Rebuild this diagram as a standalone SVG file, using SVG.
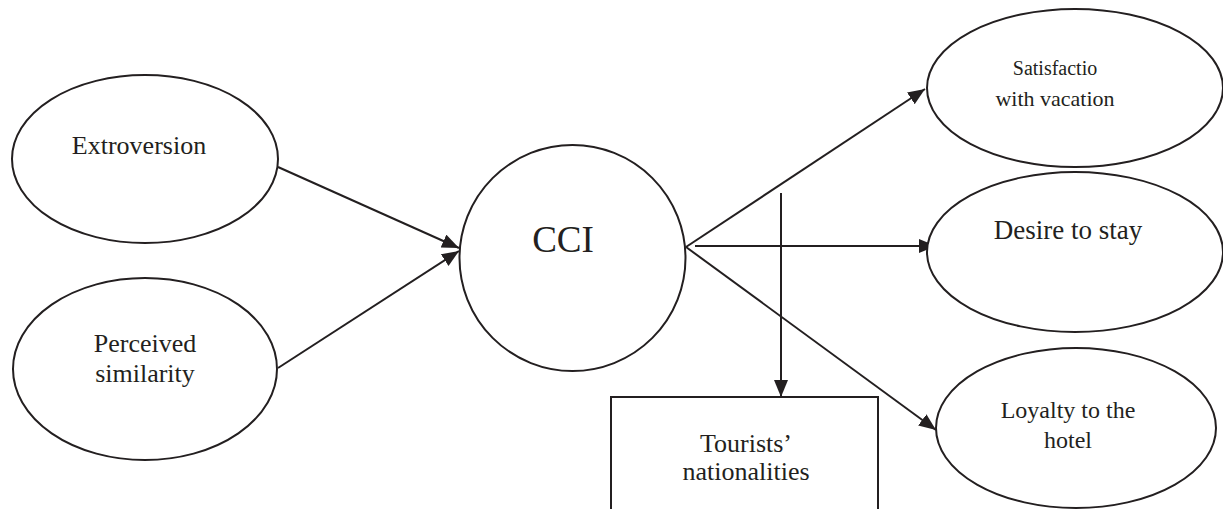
<svg xmlns="http://www.w3.org/2000/svg" width="1223" height="509" viewBox="0 0 1223 509">
<style>
.n{fill:#fff;stroke:#231f20;stroke-width:2}
.t{font-family:'Liberation Serif','Times New Roman','DejaVu Serif',serif;fill:#231f20;text-anchor:middle}
.c{stroke:#231f20;stroke-width:2;fill:none;marker-end:url(#ah)}
</style>
<defs>
<marker id="ah" markerUnits="userSpaceOnUse" markerWidth="18" markerHeight="16" refX="17" refY="7" orient="auto">
<path d="M0,0 L17,7 L0,14 Z" fill="#231f20"/>
</marker>
</defs>
<rect width="1223" height="509" fill="#fff"/>
<g id="connectors">
<line class="c" x1="278" y1="167" x2="459" y2="248"/>
<line class="c" x1="278" y1="368" x2="459" y2="251"/>
<line class="c" x1="686" y1="247" x2="925" y2="89"/>
<line class="c" x1="695" y1="246" x2="936" y2="246"/>
<line class="c" x1="686" y1="247" x2="936" y2="430"/>
<line class="c" x1="781" y1="193" x2="781" y2="397"/>
</g>
<g id="extroversion">
<ellipse class="n" cx="145" cy="159" rx="133" ry="84"/>
<text class="t" x="139" y="154" font-size="26" font-family="Liberation Serif, serif">Extroversion</text>
</g>
<g id="perceived">
<ellipse class="n" cx="145" cy="369" rx="132" ry="91"/>
<text class="t" x="145" y="352" font-size="26" font-family="Liberation Serif, serif">Perceived</text>
<text class="t" x="145" y="382" font-size="26" font-family="Liberation Serif, serif">similarity</text>
</g>
<g id="cci">
<circle class="n" cx="572.5" cy="258" r="113"/>
<text class="t" x="563" y="252" font-size="37" font-family="Liberation Serif, serif">CCI</text>
</g>
<g id="satisfaction">
<ellipse class="n" cx="1075" cy="88" rx="148" ry="79"/>
<text class="t" x="1055" y="75" font-size="20" font-family="Liberation Serif, serif">Satisfactio</text>
<text class="t" x="1055" y="106" font-size="22" font-family="Liberation Serif, serif">with vacation</text>
</g>
<g id="desire">
<ellipse class="n" cx="1075" cy="252" rx="148" ry="80"/>
<text class="t" x="1068" y="239" font-size="27" font-family="Liberation Serif, serif">Desire to stay</text>
</g>
<g id="loyalty">
<ellipse class="n" cx="1076" cy="428" rx="140" ry="80"/>
<text class="t" x="1068" y="418" font-size="24" font-family="Liberation Serif, serif">Loyalty to the</text>
<text class="t" x="1068" y="448" font-size="24" font-family="Liberation Serif, serif">hotel</text>
</g>
<g id="nationalities">
<rect class="n" x="611" y="397" width="267" height="130"/>
<text class="t" x="746" y="452" font-size="26" font-family="Liberation Serif, serif">Tourists’</text>
<text class="t" x="746" y="480" font-size="26" font-family="Liberation Serif, serif">nationalities</text>
</g>
</svg>
